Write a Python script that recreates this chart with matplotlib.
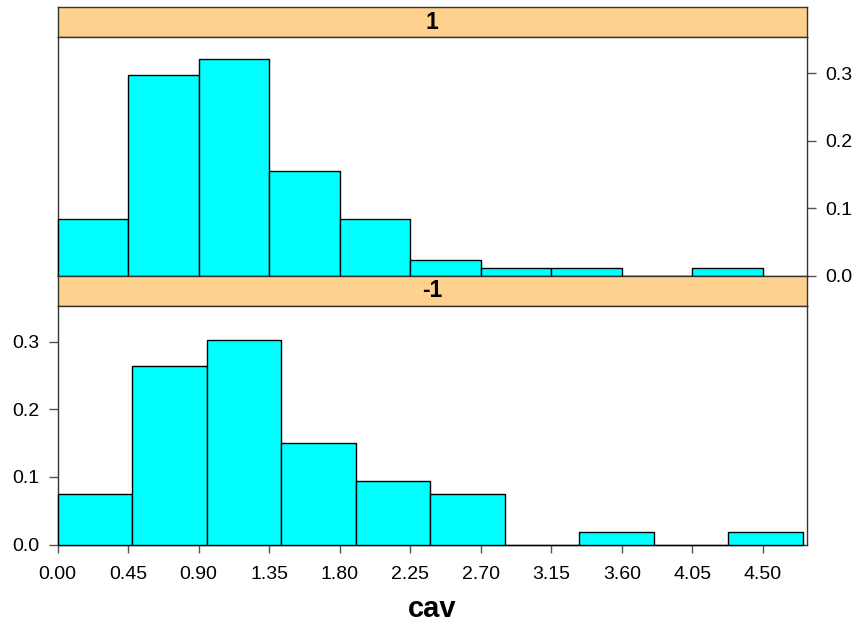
import matplotlib
matplotlib.use("Agg")
import matplotlib.pyplot as plt
import numpy as np

plt.rcParams['font.family'] = ['Liberation Sans', 'DejaVu Sans']

# Panel "1": bins of width 0.45 starting at 0
bins_top_left = [0.00, 0.45, 0.90, 1.35, 1.80, 2.25, 2.70, 3.15, 3.60, 4.05]
bins_top_width = 0.45
props_top = [0.0833, 0.2976, 0.3214, 0.1548, 0.0833, 0.0238, 0.0119, 0.0119, 0.0, 0.0119]

# Panel "-1": bins of width ~0.4755 starting at 0
bins_bot_width = 0.4755
bins_bot_left = [0.0, 0.4755, 0.951, 1.4265, 1.902, 2.3775, 2.853, 3.3285, 3.804, 4.2795]
props_bot = [0.0755, 0.2642, 0.3019, 0.1509, 0.0943, 0.0755, 0.0, 0.0189, 0.0, 0.0189]

strip_labels = ["1", "-1"]
xticks = [0.00, 0.45, 0.90, 1.35, 1.80, 2.25, 2.70, 3.15, 3.60, 4.05, 4.50]
yticks = [0.0, 0.1, 0.2, 0.3]
xlabel = "cav"

W, H = 855, 623
fig = plt.figure(figsize=(W / 100, H / 100), dpi=100)

def fx(px):
    return px / W

def fy(py):
    return 1 - py / H

left, right = 57.5, 806.7
strip_col = "#FFD18F"
border_col = "#333333"
tick_col = "#555555"
fs_tick = 14
fs_strip = 16.5

def make_panel(top_strip, top_panel, bot_panel, lefts, width, props, label, right_ticks, show_x):
    sax = fig.add_axes([fx(left), fy(top_panel), fx(right - left), (top_panel - top_strip) / H])
    sax.set_facecolor(strip_col)
    sax.set_xticks([]); sax.set_yticks([])
    for sp in sax.spines.values():
        sp.set_color(border_col); sp.set_linewidth(1.0)
    sax.text(0.5, 0.5, label, ha='center', va='center', fontsize=fs_strip,
             fontweight='bold', transform=sax.transAxes)

    ax = fig.add_axes([fx(left), fy(bot_panel), fx(right - left), (bot_panel - top_panel) / H])
    bars = ax.bar(lefts, props, width=width, align='edge', color='#00FFFF',
                  edgecolor='black', linewidth=1.0, zorder=3)
    for b in bars:
        b.set_clip_on(False)
    ax.set_xlim(0, 4.78)
    ax.set_ylim(0, 0.353)
    for sp in ax.spines.values():
        sp.set_color(border_col); sp.set_linewidth(1.0)
    ax.set_yticks(yticks)
    ax.set_yticklabels([f"{v:.1f}" for v in yticks])
    if right_ticks:
        ax.yaxis.tick_right()
    ax.tick_params(axis='y', length=6.5, width=1.0, color=tick_col, pad=6.5,
                   labelsize=fs_tick, direction='out')
    if show_x:
        ax.set_xticks(xticks)
        ax.set_xticklabels([f"{v:.2f}" for v in xticks])
        ax.tick_params(axis='x', length=6, width=1.0, color=tick_col, pad=9,
                       labelsize=fs_tick, direction='out')
        ax.set_xlabel(xlabel, fontsize=21, fontweight='bold', labelpad=9)
    else:
        ax.set_xticks([])
    return ax

make_panel(7.3, 37.3, 275.7, bins_top_left, bins_top_width, props_top, strip_labels[0], True, False)
make_panel(276.0, 305.7, 544.7, bins_bot_left, bins_bot_width, props_bot, strip_labels[1], False, True)

fig.savefig("out.png", dpi=100)
